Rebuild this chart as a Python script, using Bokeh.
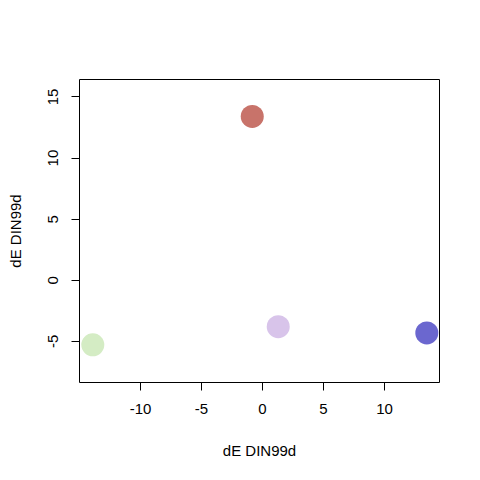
from bokeh.plotting import figure
from bokeh.models import ColumnDataSource, Range1d, FixedTicker
from bokeh.embed import file_html
from bokeh.resources import INLINE

x_vals = [-0.84, 1.29, 13.47, -13.91]
y_vals = [13.41, -3.79, -4.30, -5.28]
colors = ["#C8736A", "#D8C4EA", "#6B67CF", "#D4ECC4"]
x_ticks = [-10, -5, 0, 5, 10]
y_ticks = [-5, 0, 5, 10, 15]
x_title = "dE DIN99d"
y_title = "dE DIN99d"

src = ColumnDataSource(dict(x=x_vals, y=y_vals, c=colors))

p = figure(width=464, height=464, output_backend="svg", toolbar_location=None,
           x_range=Range1d(-15.0, 14.51), y_range=Range1d(-8.36, 16.43),
           min_border_left=79, min_border_right=25, min_border_top=79, min_border_bottom=82)
p.grid.visible = False
p.outline_line_color = "black"
p.outline_line_width = 1
p.background_fill_color = "white"
p.border_fill_color = "white"

p.scatter("x", "y", source=src, size=23, color="c", line_color=None)

font = "Liberation Sans"
for ax, ticks in ((p.xaxis, x_ticks), (p.yaxis, y_ticks)):
    ax.ticker = FixedTicker(ticks=ticks)
    ax.major_label_overrides = {t: str(t) for t in ticks}
    ax.axis_line_color = None
    ax.minor_tick_line_color = None
    ax.major_tick_in = 0
    ax.major_tick_out = 8
    ax.major_tick_line_color = "black"
    ax.major_label_text_font = font
    ax.major_label_text_font_size = "15px"
    ax.major_label_text_color = "black"
    ax.axis_label_text_font = font
    ax.axis_label_text_font_size = "15px"
    ax.axis_label_text_font_style = "normal"
    ax.axis_label_text_color = "black"

p.xaxis.axis_label = x_title
p.yaxis.axis_label = y_title
p.xaxis.major_label_standoff = 13
p.xaxis.axis_label_standoff = 25
p.yaxis.major_label_orientation = "vertical"
p.yaxis.major_label_standoff = 13
p.yaxis.axis_label_standoff = 22

open("out.html", "w").write(file_html(p, INLINE))
